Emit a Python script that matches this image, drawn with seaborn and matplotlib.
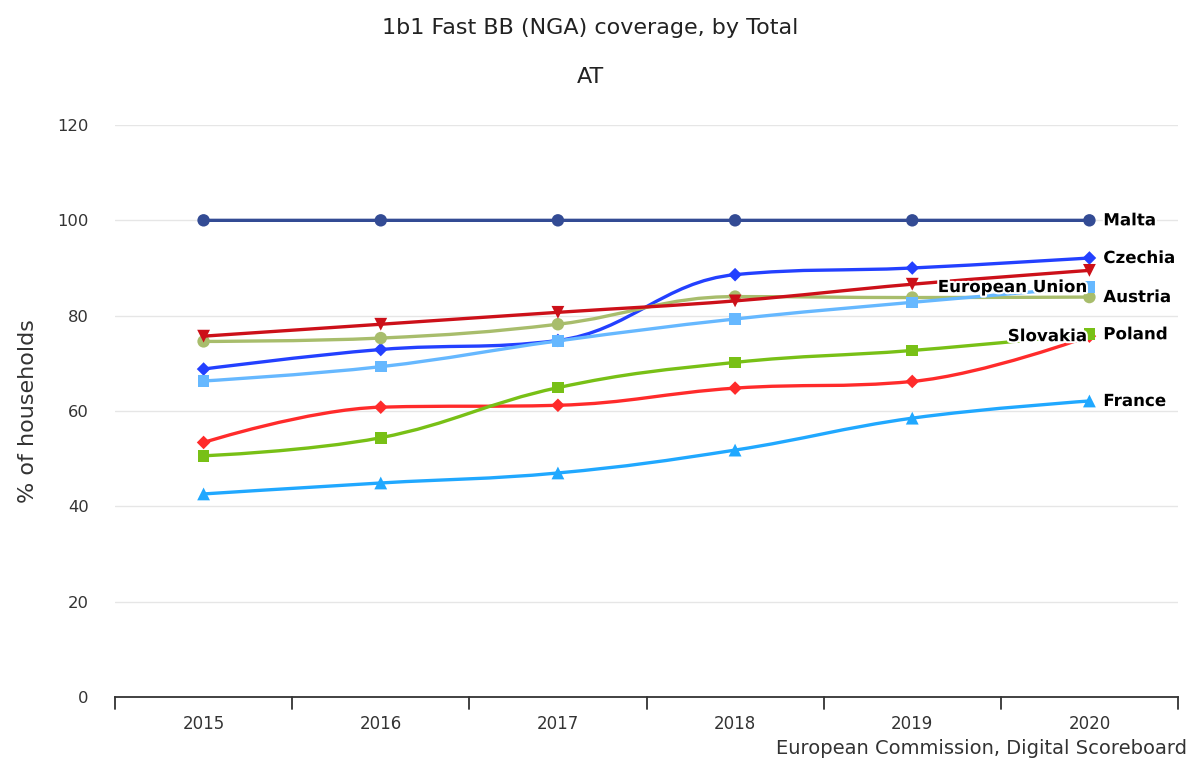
import matplotlib
matplotlib.use("Agg")
import matplotlib.pyplot as plt
import matplotlib.patheffects as pe
from matplotlib.path import Path
from matplotlib.patches import PathPatch
import seaborn as sns
import pandas as pd

# Chart data
years = ["2015", "2016", "2017", "2018", "2019", "2020"]
malta = [100, 100, 100, 100, 100, 100]
czechia = [68.8, 72.9, 74.8, 88.6, 90.0, 92.1]
unlabelled = [75.7, 78.2, 80.7, 83.1, 86.6, 89.5]
austria = [74.6, 75.3, 78.2, 84.0, 83.8, 83.9]
european_union = [66.3, 69.3, 74.7, 79.3, 82.8, 86.0]
slovakia = [53.4, 60.8, 61.2, 64.8, 66.2, 75.7]
poland = [50.6, 54.4, 64.9, 70.2, 72.7, 76.1]
france = [42.6, 44.9, 47.0, 51.8, 58.5, 62.1]

# drawing order (later ones on top)
series_names = ["Malta", "Czechia", "Austria", "Unlabelled", "European Union",
                "Slovakia", "Poland", "France"]
series_values = [malta, czechia, austria, unlabelled, european_union,
                 slovakia, poland, france]

colors = {"Malta": "#334b94", "Czechia": "#2340ff", "Unlabelled": "#cc1019",
          "Austria": "#a8bd6c", "European Union": "#66b8ff", "Poland": "#78c016",
          "Slovakia": "#ff2b2b", "France": "#20a8ff"}
markers = {"Malta": "o", "Czechia": "D", "Unlabelled": "v", "Austria": "o",
           "European Union": "s", "Poland": "s", "Slovakia": "D", "France": "^"}
sizes = {"o": 80, "D": 48, "v": 85, "s": 70, "^": 85}

rows = []
for name, vals in zip(series_names, series_values):
    for i, v in enumerate(vals):
        rows.append({"series": name, "year": years[i], "x": i, "value": v})
df = pd.DataFrame(rows)

sns.set_style("white")
plt.rcParams["font.family"] = ["DejaVu Sans"]


def spline_path(xs, ys, smoothing=1.5):
    # highcharts-style spline: bezier segments through every point
    n = len(xs)
    left = [(xs[0], ys[0])] * n
    right = [(xs[0], ys[0])] * n
    for i in range(n):
        if i == 0 or i == n - 1:
            left[i] = right[i] = (xs[i], ys[i])
            continue
        d = smoothing + 1
        lx = (smoothing * xs[i] + xs[i - 1]) / d
        ly = (smoothing * ys[i] + ys[i - 1]) / d
        rx = (smoothing * xs[i] + xs[i + 1]) / d
        ry = (smoothing * ys[i] + ys[i + 1]) / d
        corr = (ry - ly) * (rx - xs[i]) / (rx - lx) + ys[i] - ry
        ly += corr
        ry += corr
        if ly > ys[i - 1] and ly > ys[i]:
            ly = max(ys[i - 1], ys[i])
            ry = 2 * ys[i] - ly
        elif ly < ys[i - 1] and ly < ys[i]:
            ly = min(ys[i - 1], ys[i])
            ry = 2 * ys[i] - ly
        if ry > ys[i + 1] and ry > ys[i]:
            ry = max(ys[i + 1], ys[i])
            ly = 2 * ys[i] - ry
        elif ry < ys[i + 1] and ry < ys[i]:
            ry = min(ys[i + 1], ys[i])
            ly = 2 * ys[i] - ry
        left[i] = (lx, ly)
        right[i] = (rx, ry)
    verts = [(xs[0], ys[0])]
    codes = [Path.MOVETO]
    for i in range(n - 1):
        verts += [right[i], left[i + 1], (xs[i + 1], ys[i + 1])]
        codes += [Path.CURVE4] * 3
    return Path(verts, codes)


fig = plt.figure(figsize=(11.89, 7.58), dpi=100)
ax = fig.add_axes([115 / 1189, 1 - 697 / 758, 1063 / 1189, 572 / 758])

for k, name in enumerate(series_names):
    sub = df[df["series"] == name]
    p = spline_path(list(sub["x"]), list(sub["value"]))
    ax.add_patch(PathPatch(p, fill=False, edgecolor=colors[name], lw=2.4,
                           capstyle="round", joinstyle="round", zorder=2 + k * 0.1))
    sns.scatterplot(data=sub, x="x", y="value", color=colors[name],
                    marker=markers[name], s=sizes[markers[name]],
                    edgecolor="none", ax=ax, legend=False, zorder=2.05 + k * 0.1)

ax.set_xlim(-0.5, 5.5)
ax.set_ylim(0, 120)
ax.set_yticks(range(0, 121, 20))
ax.set_xticks(range(len(years)))
ax.set_xticklabels(years)
ax.grid(axis="y", color="#e6e6e6", lw=1)
ax.set_axisbelow(True)
for s in ["top", "right", "left"]:
    ax.spines[s].set_visible(False)
ax.spines["bottom"].set_color("#333333")
ax.spines["bottom"].set_linewidth(1.3)
ax.tick_params(axis="y", length=0, labelsize=11.8, labelcolor="#333333", pad=19)
ax.tick_params(axis="x", length=0, labelsize=12, labelcolor="#333333", pad=13)
# category boundary ticks
for b in [i - 0.5 for i in range(len(years) + 1)]:
    ax.plot([b, b], [0, -2.6], color="#333333", lw=1.3, clip_on=False)
ax.set_xlabel("")
ax.set_ylabel("% of households", fontsize=16, color="#333333", labelpad=14)

halo = [pe.withStroke(linewidth=3, foreground="white")]
right_labels = ["Malta", "Czechia", "Austria", "Poland", "France"]
left_labels = ["European Union", "Slovakia"]
for name in right_labels:
    y = df[(df["series"] == name) & (df["x"] == 5)]["value"].iloc[0]
    ax.annotate(name, (5, y), xytext=(10, 0), textcoords="offset points",
                va="center", ha="left", fontsize=12, fontweight="bold",
                color="black", path_effects=halo, zorder=5)
for name in left_labels:
    y = df[(df["series"] == name) & (df["x"] == 5)]["value"].iloc[0]
    ax.annotate(name, (5, y), xytext=(-2, 0), textcoords="offset points",
                va="center", ha="right", fontsize=12, fontweight="bold",
                color="black", path_effects=halo, zorder=5)

fig.text(590 / 1189, 1 - 28 / 758, "1b1 Fast BB (NGA) coverage, by Total",
         ha="center", va="center", fontsize=16, color="#222222")
fig.text(590 / 1189, 1 - 77 / 758, "AT", ha="center", va="center",
         fontsize=16, color="#222222")
fig.text(1187 / 1189, 1 - 748 / 758, "European Commission, Digital Scoreboard",
         ha="right", va="center", fontsize=14, color="#333333")

fig.savefig("out.png", dpi=100)
